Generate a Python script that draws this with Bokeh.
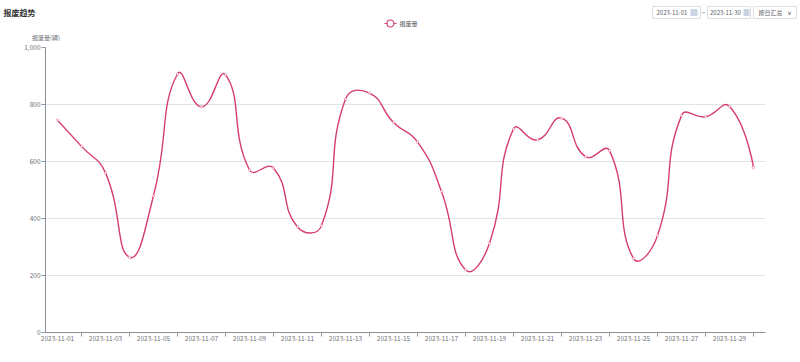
import math
from bokeh.plotting import figure
from bokeh.layouts import column
from bokeh.models import (ColumnDataSource, FixedTicker, NumeralTickFormatter, Range1d)
from bokeh.core.properties import value
from bokeh.embed import file_html
from bokeh.resources import INLINE

# ---- data ----
dates = ["2023-11-01", "2023-11-02", "2023-11-03", "2023-11-04", "2023-11-05",
         "2023-11-06", "2023-11-07", "2023-11-08", "2023-11-09", "2023-11-10",
         "2023-11-11", "2023-11-12", "2023-11-13", "2023-11-14", "2023-11-15",
         "2023-11-16", "2023-11-17", "2023-11-18", "2023-11-19", "2023-11-20",
         "2023-11-21", "2023-11-22", "2023-11-23", "2023-11-24", "2023-11-25",
         "2023-11-26", "2023-11-27", "2023-11-28", "2023-11-29", "2023-11-30"]
scrap = [745, 653, 560, 264, 480, 907, 792, 904, 570, 577,
         370, 375, 819, 840, 737, 669, 495, 220, 313, 714,
         676, 752, 617, 638, 260, 340, 761, 757, 793, 579]
y_ticks = [0, 200, 400, 600, 800, 1000]
series_name = "报废量"
title_text = "报废趋势"
y_name = "报废量(辆)"
start_date = "2023-11-01"
end_date = "2023-11-30"
mode_text = "按日汇总"

LINE = "#d63d6e"
FONT = "Noto Sans CJK SC"
AXIS = "#8f9299"
LABEL = "#6e7079"

W = 798
HEAD_H = 41
MAIN_H = 319
ML, MR, MT, MB = 45, 33, 6, 28
frame_w = W - ML - MR
frame_h = MAIN_H - MT - MB

n = len(dates)
xs = list(range(n))

# ================= header (title, legend, controls, axis name) =================
h = figure(width=W, height=HEAD_H, output_backend="svg", toolbar_location=None,
           x_range=Range1d(0, W), y_range=Range1d(HEAD_H, 0),
           x_axis_type=None, y_axis_type=None,
           min_border=0, min_border_left=0, min_border_right=0,
           min_border_top=0, min_border_bottom=0)
h.frame_align = False
h.outline_line_color = None
h.grid.visible = False
h.background_fill_color = "white"
h.border_fill_color = "white"


def htext(x, y, text, size="6px", color="#606266", align="left", style="normal", font=FONT):
    h.text(x=[x], y=[y], text=[text], text_font_size=value(size), text_color=color,
           text_align=align, text_baseline="middle", text_font_style=style,
           text_font=value(font))


def hbox(l, r, t, b, fill="white", line="#dcdfe6"):
    h.quad(left=[l], right=[r], top=[t], bottom=[b], fill_color=fill,
           line_color=line, line_width=1)


htext(3, 12, title_text, size="8px", color="#333333", style="bold")

# legend
h.line(x=[384, 396], y=[23, 23], line_color=LINE, line_width=1.2)
h.scatter(x=[390], y=[23], size=7, marker="circle", fill_color="white",
          line_color=LINE, line_width=1.1)
htext(399, 23, series_name, size="6px", color="#555555")

# y-axis name
htext(45.5, 37, y_name, size="6px", color=LABEL, align="center")

# controls
hbox(652, 700, 6, 18)
htext(656, 12, start_date)
hbox(690, 697, 8.5, 15.5, fill="#c9d5e3", line=None)
htext(703, 12, "~", align="center")
hbox(707, 750, 6, 18)
htext(709.5, 12, end_date)
hbox(743, 749, 8.5, 15.5, fill="#c9d5e3", line=None)
hbox(753, 796, 6, 18)
htext(758, 12, mode_text)
htext(789, 12, "∨", size="6px", color="#555555", align="center", font="DejaVu Sans")

# ================= main chart =================
p = figure(width=W, height=MAIN_H, output_backend="svg", toolbar_location=None,
           x_range=Range1d(-0.5, n - 0.5), y_range=Range1d(0, 1000),
           min_border_left=ML, min_border_right=MR, min_border_top=MT, min_border_bottom=MB)
p.frame_align = False
p.outline_line_color = None
p.background_fill_color = "white"
p.border_fill_color = "white"

# smooth curve (ECharts-like bezier smoothing computed in pixel space)
kx = frame_w / n
ky = frame_h / 1000.0
pts = [(i * kx, v * ky) for i, v in zip(xs, scrap)]
s = 0.5
cpb, cpa = [], []
for i, (x, y) in enumerate(pts):
    if i == 0 or i == n - 1:
        cpb.append((x, y)); cpa.append((x, y)); continue
    px_, py_ = pts[i - 1]
    nx_, ny_ = pts[i + 1]
    vx, vy = nx_ - px_, ny_ - py_
    l0 = math.hypot(x - px_, y - py_)
    l1 = math.hypot(nx_ - x, ny_ - y)
    r = l1 / (l0 + l1)
    cpb.append((x - vx * s * (1 - r), y - vy * s * (1 - r)))
    cpa.append((x + vx * s * r, y + vy * s * r))

seg = dict(x0=[], y0=[], x1=[], y1=[], cx0=[], cy0=[], cx1=[], cy1=[])
for i in range(n - 1):
    seg["x0"].append(xs[i]); seg["y0"].append(scrap[i])
    seg["x1"].append(xs[i + 1]); seg["y1"].append(scrap[i + 1])
    seg["cx0"].append(cpa[i][0] / kx); seg["cy0"].append(cpa[i][1] / ky)
    seg["cx1"].append(cpb[i + 1][0] / kx); seg["cy1"].append(cpb[i + 1][1] / ky)

p.bezier(x0="x0", y0="y0", x1="x1", y1="y1", cx0="cx0", cy0="cy0", cx1="cx1", cy1="cy1",
         source=ColumnDataSource(seg), line_color=LINE, line_width=1.4)
p.scatter(x=xs, y=scrap, size=2.5, marker="circle", fill_color="white",
          line_color=LINE, line_width=0.6, line_alpha=0.7)

# axes
p.yaxis.ticker = FixedTicker(ticks=y_ticks)
p.yaxis.formatter = NumeralTickFormatter(format="0,0")
p.yaxis.axis_line_color = AXIS
p.yaxis.major_tick_line_color = AXIS
p.yaxis.major_tick_out = 4
p.yaxis.major_tick_in = 0
p.yaxis.minor_tick_line_color = None
p.yaxis.major_label_text_font_size = "6.5px"
p.yaxis.major_label_text_color = LABEL
p.yaxis.major_label_text_font = FONT
p.yaxis.major_label_standoff = 1

p.xaxis.ticker = FixedTicker(ticks=xs[0::2], minor_ticks=xs[1::2])
p.xaxis.major_label_overrides = {i: dates[i] for i in xs}
p.xaxis.axis_line_color = AXIS
p.xaxis.major_tick_out = 0
p.xaxis.major_tick_in = 0
p.xaxis.minor_tick_out = 4
p.xaxis.minor_tick_in = 0
p.xaxis.minor_tick_line_color = AXIS
p.xaxis.major_label_text_font_size = "6.5px"
p.xaxis.major_label_text_color = LABEL
p.xaxis.major_label_text_font = FONT
p.xaxis.major_label_standoff = -1

p.xgrid.grid_line_color = None
p.ygrid.grid_line_color = "#e0e3e8"
p.ygrid.grid_line_width = 1

layout = column(h, p, spacing=0)
open("out.html", "w").write(file_html(layout, INLINE))
